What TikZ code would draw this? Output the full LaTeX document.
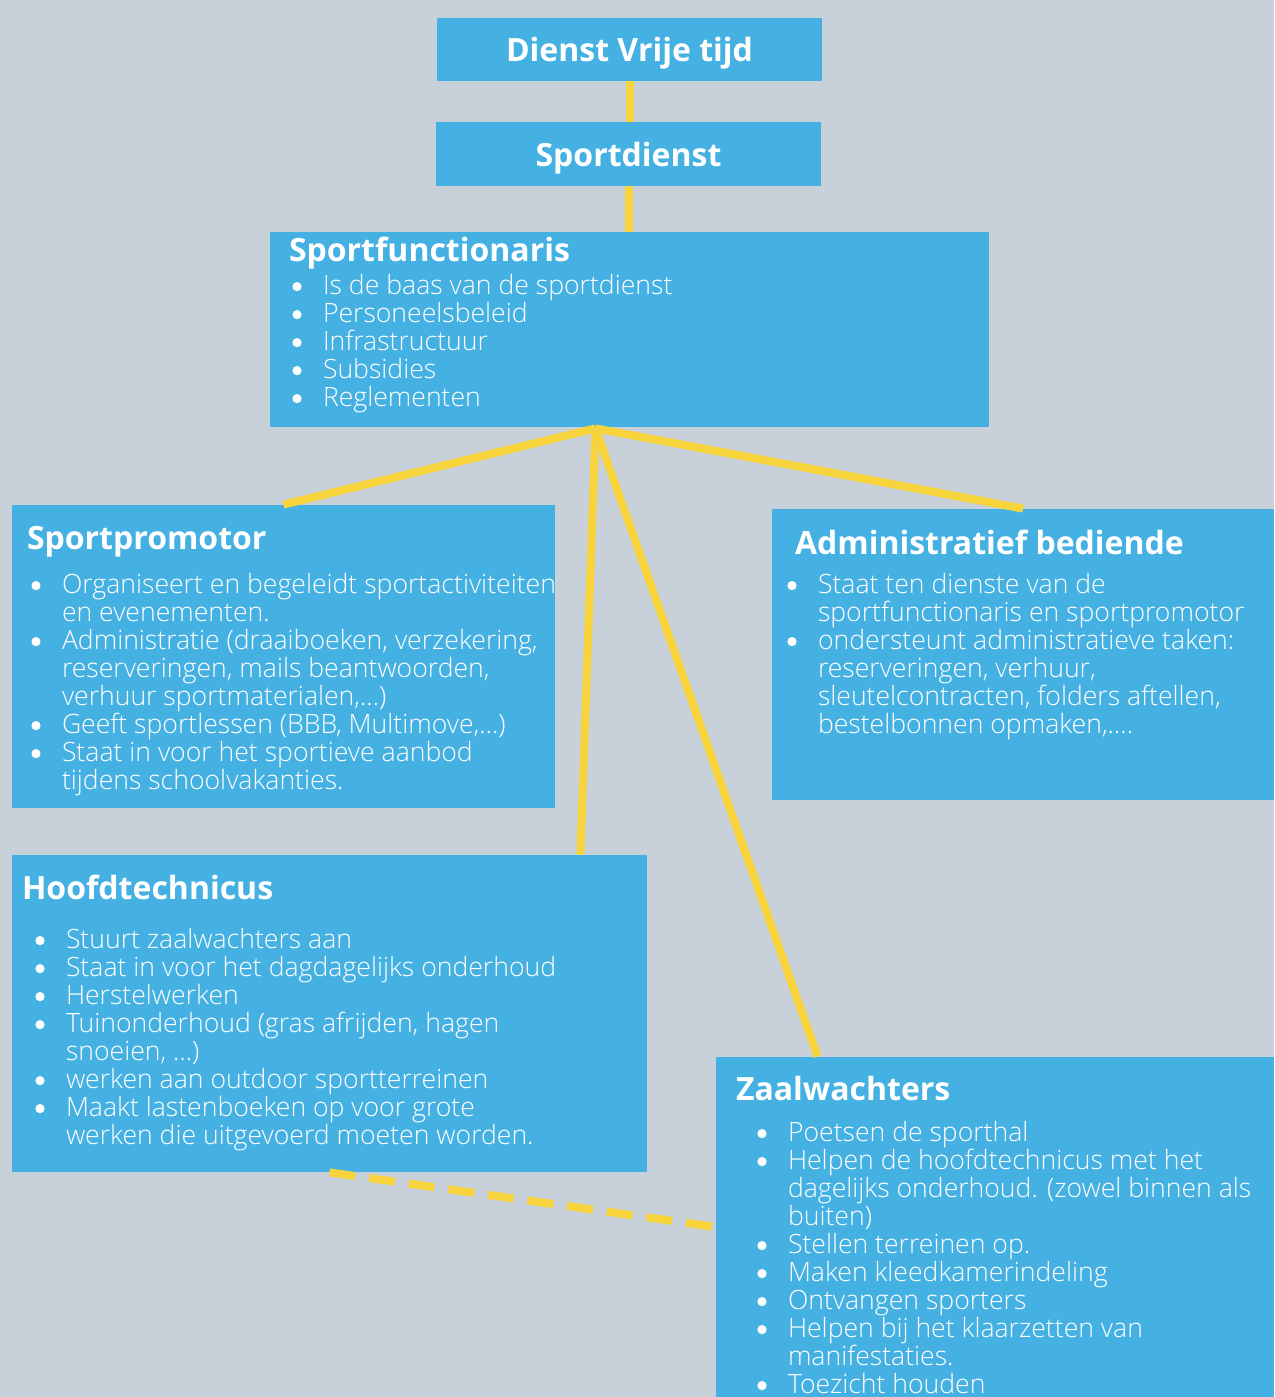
\documentclass[tikz,border=0pt]{standalone}
\usepackage{fontspec}
\setmainfont{Open Sans}
\newfontfamily\lightfont{Open Sans Light}
\usetikzlibrary{calc,fit}

\definecolor{backdrop}{HTML}{C8D0D9}
\definecolor{boxblue}{HTML}{45B1E3}
\definecolor{linkyellow}{HTML}{F8D43C}

% one bullet item, the dot hangs left of the text
\newcommand{\itm}{\llap{\tikz[baseline=0pt]\fill[white] (0pt,4pt) circle[radius=2.3pt];\hspace{10.7pt}}}
% lines of a list, always 14pt apart
\newcommand{\tasks}[1]{\vtop{\baselineskip=14pt\lineskiplimit=-\maxdimen
    \let\\\cr\halign{##\hfil\cr#1\crcr}}}

\tikzset{
    unitbox/.style={
        rectangle,
        fill=boxblue,
        inner sep=0pt
    },
    title/.style={
        anchor=base west,
        inner sep=0pt,
        text=white,
        font=\bfseries\fontsize{16}{18}\selectfont
    },
    tasklist/.style={
        anchor=base west,
        inner sep=0pt,
        text=white,
        font=\lightfont\fontsize{13.3}{14}\selectfont
    },
    link/.style={
        draw=linkyellow,
        line width=4pt
    },
    dashlink/.style={
        link,
        dash pattern=on 13pt off 7pt
    }
}

\begin{document}
\begin{tikzpicture}[x=0.5pt, y=-0.5pt]
\fill[backdrop] (0,0) rectangle (1274,1397);
\useasboundingbox (0,0) rectangle (1274,1397);

% boxes
\node[unitbox, fit={(437,18) (822,81)}] (dvt) {};
\node[unitbox, fit={(436,122) (821,186)}] (sportdienst) {};
\node[unitbox, fit={(270,232) (989,427)}] (functionaris) {};
\node[unitbox, fit={(12,505) (555,808)}] (promotor) {};
\node[unitbox, fit={(772,509) (1274,800)}] (admin) {};
\node[unitbox, fit={(12,855) (647,1172)}] (technicus) {};
\node[unitbox, fit={(716,1057) (1274,1397)}] (zaalwachters) {};

% connectors
\coordinate (hub) at ($(functionaris.south)+(-34,1)$);
\draw[link] (dvt) -- (dvt.south |- sportdienst.north);
\draw[link] (sportdienst) -- (sportdienst.south |- functionaris.north);
\draw[link] (hub) -- (promotor.north);
\draw[link] (hub) -- (admin.north);
\draw[link] (hub) -- ($(technicus.north east)+(-67,0)$);
\draw[link] (hub) -- ($(zaalwachters.north west)+(102,0)$);
\draw[dashlink] (technicus.south) -- (zaalwachters.west);

% texts
\node[title, anchor=base] at ($(dvt.north)+(0,43.5)$) {Dienst Vrije tijd};
\node[title, anchor=base] at ($(sportdienst.north)+(0,44.5)$) {Sportdienst};

\node[title] at ($(functionaris.north west)+(19,29.5)$) {Sportfunctionaris};
\node[tasklist] at ($(functionaris.north west)+(53,63)$) {\tasks{
    \itm Is de baas van de sportdienst\\
    \itm Personeelsbeleid\\
    \itm Infrastructuur\\
    \itm Subsidies\\
    \itm Reglementen}};

\node[title] at ($(promotor.north west)+(15,44.5)$) {Sportpromotor};
\node[tasklist] at ($(promotor.north west)+(50,89)$) {\tasks{
    \itm Organiseert en begeleidt sportactiviteiten\\
    en evenementen.\\
    \itm Administratie (draaiboeken, verzekering,\\
    reserveringen, mails beantwoorden,\\
    verhuur sportmaterialen,\dots)\\
    \itm Geeft sportlessen (BBB, Multimove,\dots)\\
    \itm Staat in voor het sportieve aanbod\\
    tijdens schoolvakanties.}};

\node[title] at ($(admin.north west)+(23,45.5)$) {Administratief bediende};
\node[tasklist] at ($(admin.north west)+(46,85)$) {\tasks{
    \itm Staat ten dienste van de\\
    sportfunctionaris en sportpromotor\\
    \itm ondersteunt administratieve taken:\\
    reserveringen, verhuur,\\
    sleutelcontracten, folders aftellen,\\
    bestelbonnen opmaken,\dots.}};

\node[title] at ($(technicus.north west)+(10,44.5)$) {Hoofdtechnicus};
\node[tasklist] at ($(technicus.north west)+(54,94)$) {\tasks{
    \itm Stuurt zaalwachters aan\\
    \itm Staat in voor het dagdagelijks onderhoud\\
    \itm Herstelwerken\\
    \itm Tuinonderhoud (gras afrijden, hagen\\
    snoeien, \dots)\\
    \itm werken aan outdoor sportterreinen\\
    \itm Maakt lastenboeken op voor grote\\
    werken die uitgevoerd moeten worden.}};

\node[title] at ($(zaalwachters.north west)+(20,43.5)$) {Zaalwachters};
\node[tasklist] at ($(zaalwachters.north west)+(72,85)$) {\tasks{
    \itm Poetsen de sporthal\\
    \itm Helpen de hoofdtechnicus met het\\
    dagelijks onderhoud. (zowel binnen als\\
    buiten)\\
    \itm Stellen terreinen op.\\
    \itm Maken kleedkamerindeling\\
    \itm Ontvangen sporters\\
    \itm Helpen bij het klaarzetten van\\
    manifestaties.\\
    \itm Toezicht houden}};
\end{tikzpicture}
\end{document}
